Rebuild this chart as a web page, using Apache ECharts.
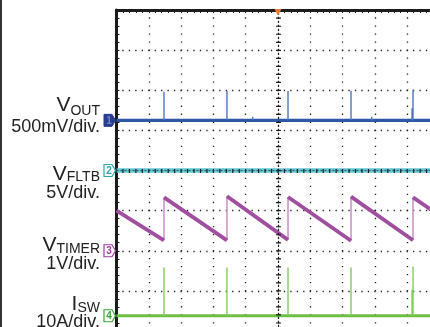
<!DOCTYPE html>
<html><head><meta charset="utf-8">
<script src="https://cdn.jsdelivr.net/npm/echarts@6/dist/echarts.min.js"></script>
<style>html,body{margin:0;padding:0;background:#fff}#c{width:430px;height:327px}</style>
</head><body><div id="c"></div>
<script>
// Horizontal axis: time in divisions (10 div across); vertical: divisions (8 div, 0 = centre)
const pulseTimes = [1.47, 3.42, 5.31, 7.26, 9.18];          // switching events, div

// VOUT (500 mV/div): ripple spikes at each switching event
const voutSpikeMv = [355, 365, 365, 370, 380];
const voutBumpTimes = [4.22, 7.9, 9.15];
const voutBumpMv = [45, 45, 150];

// VFLTB (5 V/div): flat
const vfltbLevelV = 0;

// VTIMER (1 V/div): sawtooth, reset at each switching event
const timerStartV = 1.0;
const timerLowV = [0.26, 0.26, 0.27, 0.25, 0.26];
const timerHighV = [1.33, 1.36, 1.34, 1.35, 1.33];
const timerEndV = 0.88;

// ISW (10 A/div): current pulses
const iswSpikeA = [12.0, 12.0, 12.0, 12.0, 12.3];
const iswExtraTimes = [9.15];
const iswExtraA = [6.5];

// Channel reference positions (div from centre) and scales (units/div)
const refDiv = { vout: 1.25, vfltb: 0, vtimer: -2.0, isw: -3.62 };
const perDiv = { vout: 500, vfltb: 5, vtimer: 1, isw: 10 };

const T0 = 0, T1 = 10;
const toDiv = (ch, v) => refDiv[ch] + v / perDiv[ch];

function spikes(ch, times, vals) {
  const out = [];
  times.forEach((t, i) => {
    out.push([t, toDiv(ch, 0)], [t, toDiv(ch, vals[i])], [t, '-']);
  });
  return out;
}

// VTIMER ramps and reset edges
const timerRamps = [];
const timerEdges = [];
{
  let prevT = T0, prevV = timerStartV;
  pulseTimes.forEach((t, i) => {
    timerRamps.push([prevT, toDiv('vtimer', prevV)], [t, toDiv('vtimer', timerLowV[i])], [t, '-']);
    timerEdges.push([t, toDiv('vtimer', timerLowV[i])], [t, toDiv('vtimer', timerHighV[i])], [t, '-']);
    prevT = t; prevV = timerHighV[i];
  });
  timerRamps.push([prevT, toDiv('vtimer', prevV)], [T1, toDiv('vtimer', timerEndV)]);
}

const chart = echarts.init(document.getElementById('c'), null, { renderer: 'canvas' });
const INK = '#1c1c1c';

const lineBase = { type: 'line', showSymbol: false, symbol: 'none', animation: false, silent: true, clip: true };

chart.setOption({
  animation: false,
  backgroundColor: '#ffffff',
  grid: { left: 116.5, top: 10, width: 323, height: 321, outerBoundsMode: 'none', containLabel: false },
  xAxis: {
    type: 'value', min: 0, max: 10, interval: 1, position: 'top',
    axisLine: { show: true, onZero: false, lineStyle: { color: INK, width: 3 } },
    axisTick: { show: true, inside: true, length: 3, lineStyle: { color: INK, width: 1 } },
    minorTick: { show: true, splitNumber: 5, length: 3, lineStyle: { color: INK, width: 1 } },
    axisLabel: { show: false },
    splitLine: { show: true, lineStyle: { color: '#222', width: 1.3, type: [1.3, 6.72], dashOffset: 0.65 } }
  },
  yAxis: {
    type: 'value', min: -4, max: 4, interval: 1,
    axisLine: { show: true, onZero: false, lineStyle: { color: INK, width: 3 } },
    axisTick: { show: true, inside: true, length: 3, lineStyle: { color: INK, width: 1 } },
    minorTick: { show: true, splitNumber: 5, length: 3, lineStyle: { color: INK, width: 1 } },
    axisLabel: { show: false },
    splitLine: { show: true, lineStyle: { color: '#222', width: 1.3, type: [1.3, 5.16], dashOffset: 0.65 } }
  },
  series: [
    // VOUT
    Object.assign({}, lineBase, { z: 3, data: [[T0, toDiv('vout', 0)], [T1, toDiv('vout', 0)]],
      lineStyle: { color: '#2c58a6', width: 3.2 } }),
    Object.assign({}, lineBase, { z: 3, connectNulls: false,
      data: spikes('vout', pulseTimes, voutSpikeMv).concat(spikes('vout', voutBumpTimes, voutBumpMv)),
      lineStyle: { color: '#4f75bd', width: 1.4 } }),
    // VFLTB
    Object.assign({}, lineBase, { z: 3, data: [[T0, toDiv('vfltb', vfltbLevelV)], [T1, toDiv('vfltb', vfltbLevelV)]],
      lineStyle: { color: '#62c5d5', width: 4.5 } }),
    // VTIMER
    Object.assign({}, lineBase, { z: 3, connectNulls: false, data: timerEdges,
      lineStyle: { color: '#cc94cc', width: 1.6 } }),
    Object.assign({}, lineBase, { z: 4, connectNulls: false, data: timerRamps,
      lineStyle: { color: '#a04e9f', width: 3.8 } }),
    // ISW
    Object.assign({}, lineBase, { z: 3, data: [[T0, toDiv('isw', 0)], [T1, toDiv('isw', 0)]],
      lineStyle: { color: '#6dbf44', width: 3.2 } }),
    Object.assign({}, lineBase, { z: 3, connectNulls: false,
      data: spikes('isw', pulseTimes, iswSpikeA).concat(spikes('isw', iswExtraTimes, iswExtraA)),
      lineStyle: { color: '#80cc5e', width: 1.4 } }),
    // centre graticule lines with tick marks
    Object.assign({}, lineBase, { z: 10, data: [],
      markLine: {
        silent: true, symbol: 'none', animation: false, label: { show: false },
        data: [
          { xAxis: 5, lineStyle: { color: INK, width: 1.2, type: [2.2, 1.8] } },
          { xAxis: 5, lineStyle: { color: INK, width: 5, type: [1.2, 6.82], dashOffset: 0.6 } },
          { yAxis: 0, lineStyle: { color: '#1f3f48', width: 0.8, type: [2, 2] } },
          { yAxis: 0, lineStyle: { color: INK, width: 4, type: [1.2, 5.26], dashOffset: 0.6 } }
        ]
      } })
  ]
});

// ---- overlays: channel markers, labels, trigger marker, frame edge ----
const px = (x, y) => chart.convertToPixel({ gridIndex: 0 }, [x, y]);
const yOf = (d) => px(0, d)[1];
const FONT = '"Liberation Sans", Arial, sans-serif';
const TEXT = '#222';

const meas = document.createElement('canvas').getContext('2d');
function textW(str, size) { meas.font = size + 'px ' + FONT; return meas.measureText(str).width; }

const graphics = [];

// left frame edge of the picture
graphics.push({ type: 'rect', shape: { x: 0, y: 0, width: 2, height: 327 }, style: { fill: '#333' }, silent: true });

// channel reference markers
const markerDefs = [
  { ch: 'vout', num: '1', color: '#2b3d8f', filled: true },
  { ch: 'vfltb', num: '2', color: '#2fa9ad', filled: false },
  { ch: 'vtimer', num: '3', color: '#9a3f9c', filled: false },
  { ch: 'isw', num: '4', color: '#3aa43a', filled: false }
];
markerDefs.forEach(m => {
  const cy = yOf(refDiv[m.ch]);
  const x0 = 104, x1 = 112, x2 = 115.5, h = 6;
  graphics.push({
    type: 'polygon', silent: true, z: 20,
    shape: { points: [[x0, cy - h], [x1, cy - h], [x2, cy], [x1, cy + h], [x0, cy + h]] },
    style: m.filled ? { fill: m.color, stroke: m.color, lineWidth: 1 } : { fill: '#fff', stroke: m.color, lineWidth: 1.2 }
  });
  graphics.push({
    type: 'text', silent: true, z: 21,
    style: { text: m.num, x: 109, y: cy + 0.5, align: 'center', verticalAlign: 'middle',
      font: 'bold 10px ' + FONT, fill: m.filled ? '#6f7fc8' : m.color }
  });
});

// channel labels: main letter, subscript, scale line
const labelDefs = [
  { main: 'V', sub: 'OUT', scale: '500mV/div.', yMain: 105.5, ySub: 111.5, yScale: 127.5 },
  { main: 'V', sub: 'FLTB', scale: '5V/div.', yMain: 174, ySub: 177.5, yScale: 193 },
  { main: 'V', sub: 'TIMER', scale: '1V/div.', yMain: 245, ySub: 249.5, yScale: 264 },
  { main: 'I', sub: 'SW', scale: '10A/div.', yMain: 304.5, ySub: 308.5, yScale: 322 }
];
const RIGHT = 100, MAIN = 21, SUB = 14, SCALE = 18;
labelDefs.forEach(l => {
  const sw = textW(l.sub, SUB);
  graphics.push({ type: 'text', silent: true, z: 20,
    style: { text: l.sub, x: RIGHT, y: l.ySub, align: 'right', verticalAlign: 'middle', font: SUB + 'px ' + FONT, fill: TEXT } });
  graphics.push({ type: 'text', silent: true, z: 20,
    style: { text: l.main, x: RIGHT - sw, y: l.yMain, align: 'right', verticalAlign: 'middle', font: MAIN + 'px ' + FONT, fill: TEXT } });
  graphics.push({ type: 'text', silent: true, z: 20,
    style: { text: l.scale, x: RIGHT, y: l.yScale, align: 'right', verticalAlign: 'middle', font: SCALE + 'px ' + FONT, fill: TEXT } });
});

// trigger position marker at top centre
{
  const [tx, ty] = px(5, 4);
  graphics.push({ type: 'polygon', silent: true, z: 30,
    shape: { points: [[tx - 3.5, ty - 1], [tx + 3.5, ty - 1], [tx, ty + 5.5]] },
    style: { fill: '#f07c32' } });
}

chart.setOption({ graphic: { elements: graphics } });
</script>
</body></html>
